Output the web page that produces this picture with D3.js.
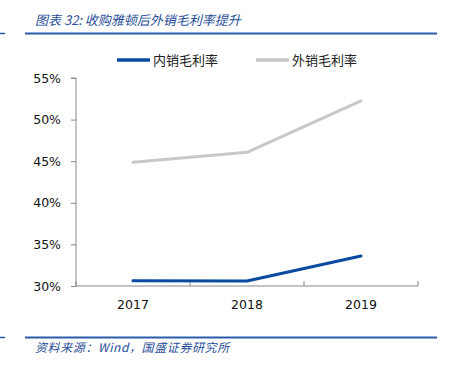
<!DOCTYPE html>
<html><head><meta charset="utf-8">
<script src="https://cdn.jsdelivr.net/npm/d3@7"></script>
<style>body{margin:0;background:#fff;}svg{display:block;font-family:Verdana,"DejaVu Sans",sans-serif;}</style>
</head><body><svg id="c" width="463" height="367"></svg>
<script>
const categories = ["2017","2018","2019"];
const domesticMargin = [30.64, 30.6, 33.6];
const exportMargin = [44.87, 46.07, 52.24];
const yTicks = [30,35,40,45,50,55];
const seriesNames = ["内销毛利率","外销毛利率"];
const seriesColors = ["#0a4aa0","#c8c8c8"];

(function(){
const svg = d3.select("#c");
const pL=76, pR=418, pT=78, pB=286;
const x = d3.scaleBand().domain(categories).range([pL,pR]);
const y = d3.scaleLinear().domain([30,55]).range([pB,pT]);

// header
svg.append("line").attr("x1",0).attr("x2",5).attr("y1",33.5).attr("y2",33.5).attr("stroke","#2a5caa").attr("stroke-width",1.5);
svg.append("line").attr("x1",25).attr("x2",437).attr("y1",33.5).attr("y2",33.5).attr("stroke","#2a5caa").attr("stroke-width",2);
svg.append("text").attr("x",35).attr("y",25).attr("font-size",13).attr("font-style","italic").attr("fill","#2a4f9a")
  .attr("font-family","'Noto Sans CJK SC',sans-serif").text("图表 32:  收购雅顿后外销毛利率提升");
// footer
svg.append("line").attr("x1",0).attr("x2",5).attr("y1",337.5).attr("y2",337.5).attr("stroke","#2a5caa").attr("stroke-width",1.5);
svg.append("line").attr("x1",25).attr("x2",437).attr("y1",337.5).attr("y2",337.5).attr("stroke","#2a5caa").attr("stroke-width",2);
svg.append("text").attr("x",35).attr("y",352).attr("font-size",12).attr("font-style","italic").attr("fill","#2a4f9a")
  .attr("letter-spacing",0.6)
  .attr("font-family","'Noto Sans CJK SC',sans-serif").text("资料来源：Wind，国盛证券研究所");

// axes
const ya = svg.append("g").attr("transform",`translate(${pL},0)`)
  .call(d3.axisLeft(y).tickValues(yTicks).tickSize(5).tickPadding(10).tickFormat(d=>d+"%"));
ya.select(".domain").attr("stroke","#888").attr("d",`M-5,${pT}H0V${pB}`);
ya.selectAll(".tick line").attr("stroke","#888");
ya.selectAll("text").attr("font-size",12.5).attr("fill","#111").attr("font-family","Verdana,'DejaVu Sans',sans-serif");

const xa = svg.append("g").attr("transform",`translate(0,${pB})`);
xa.append("line").attr("x1",pL).attr("x2",pR).attr("stroke","#888");
const edges = [pL, ...categories.map(c=>x(c)+x.bandwidth())];
xa.selectAll("line.t").data(edges).enter().append("line").attr("class","t")
  .attr("x1",d=>d).attr("x2",d=>d).attr("y1",0).attr("y2",-5).attr("stroke","#888");
xa.selectAll("text").data(categories).enter().append("text")
  .attr("x",d=>x(d)+x.bandwidth()/2).attr("y",23).attr("text-anchor","middle")
  .attr("font-size",12.5).attr("fill","#111").text(d=>d);

// lines
const line = d3.line().x((d,i)=>x(categories[i])+x.bandwidth()/2).y(d=>y(d));
[[exportMargin,1],[domesticMargin,0]].forEach(([vals,idx])=>{
  svg.append("path").attr("d",line(vals)).attr("fill","none").attr("stroke",seriesColors[idx])
    .attr("stroke-width",3).attr("stroke-linecap","round").attr("stroke-linejoin","round");
});

// legend
const lg = [{x:117,name:seriesNames[0],c:seriesColors[0]},{x:256,name:seriesNames[1],c:seriesColors[1]}];
lg.forEach(l=>{
  svg.append("line").attr("x1",l.x).attr("x2",l.x+33).attr("y1",60).attr("y2",60).attr("stroke",l.c).attr("stroke-width",3.5);
  svg.append("text").attr("x",l.x+36).attr("y",65).attr("font-size",13).attr("fill","#222")
    .attr("font-family","'Noto Sans CJK SC',sans-serif").text(l.name);
});
})();
</script></body></html>
